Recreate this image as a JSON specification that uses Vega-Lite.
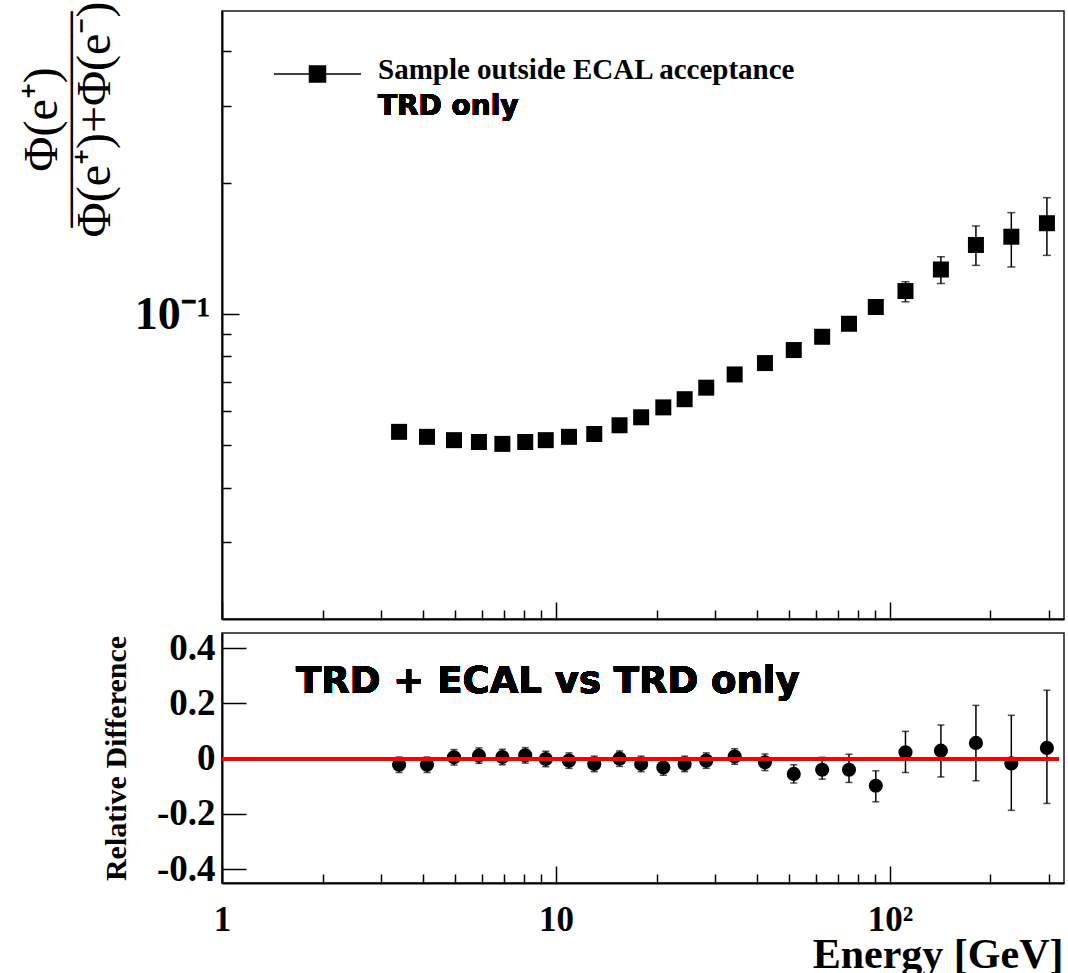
{
  "$schema": "https://vega.github.io/schema/vega-lite/v6.json",
  "background": "white",
  "padding": {"left": 17, "top": 0, "right": 0, "bottom": 0},
  "spacing": 7,
  "datasets": {
    "ratio": [
      {"E": 3.39, "r": 0.0537, "lo": 0.0529, "hi": 0.0545},
      {"E": 4.11, "r": 0.0523, "lo": 0.0515, "hi": 0.0531},
      {"E": 4.95, "r": 0.0514, "lo": 0.0506, "hi": 0.0522},
      {"E": 5.88, "r": 0.0509, "lo": 0.0501, "hi": 0.0517},
      {"E": 6.91, "r": 0.0504, "lo": 0.0496, "hi": 0.0512},
      {"E": 8.09, "r": 0.0509, "lo": 0.0501, "hi": 0.0517},
      {"E": 9.32, "r": 0.0514, "lo": 0.0506, "hi": 0.0522},
      {"E": 10.94, "r": 0.0523, "lo": 0.0515, "hi": 0.0531},
      {"E": 13.02, "r": 0.0531, "lo": 0.0522, "hi": 0.054},
      {"E": 15.5, "r": 0.0556, "lo": 0.0547, "hi": 0.0565},
      {"E": 17.99, "r": 0.058, "lo": 0.057, "hi": 0.059},
      {"E": 20.96, "r": 0.0611, "lo": 0.06, "hi": 0.0622},
      {"E": 24.28, "r": 0.0638, "lo": 0.0626, "hi": 0.065},
      {"E": 28.18, "r": 0.0678, "lo": 0.0665, "hi": 0.0691},
      {"E": 34.28, "r": 0.0727, "lo": 0.0713, "hi": 0.0741},
      {"E": 42.24, "r": 0.0772, "lo": 0.0756, "hi": 0.0788},
      {"E": 51.52, "r": 0.0827, "lo": 0.0809, "hi": 0.0845},
      {"E": 62.66, "r": 0.0887, "lo": 0.0866, "hi": 0.0908},
      {"E": 75.4, "r": 0.095, "lo": 0.0926, "hi": 0.0974},
      {"E": 90.7, "r": 0.1038, "lo": 0.101, "hi": 0.1066},
      {"E": 111.3, "r": 0.1129, "lo": 0.1067, "hi": 0.1186},
      {"E": 142.1, "r": 0.1265, "lo": 0.1175, "hi": 0.1353},
      {"E": 180.9, "r": 0.144, "lo": 0.1293, "hi": 0.1592},
      {"E": 230.9, "r": 0.1504, "lo": 0.1282, "hi": 0.1708},
      {"E": 295.1, "r": 0.1615, "lo": 0.1363, "hi": 0.1848}
    ],
    "diff": [
      {"E": 3.39, "d": -0.022, "lo": -0.05, "hi": 0.006},
      {"E": 4.11, "d": -0.022, "lo": -0.05, "hi": 0.006},
      {"E": 4.95, "d": 0.005, "lo": -0.023, "hi": 0.033},
      {"E": 5.88, "d": 0.011, "lo": -0.017, "hi": 0.039},
      {"E": 6.91, "d": 0.006, "lo": -0.022, "hi": 0.034},
      {"E": 8.09, "d": 0.012, "lo": -0.016, "hi": 0.04},
      {"E": 9.32, "d": -0.001, "lo": -0.029, "hi": 0.027},
      {"E": 10.94, "d": -0.007, "lo": -0.035, "hi": 0.021},
      {"E": 13.02, "d": -0.019, "lo": -0.047, "hi": 0.009},
      {"E": 15.5, "d": 0.0, "lo": -0.028, "hi": 0.028},
      {"E": 17.99, "d": -0.019, "lo": -0.047, "hi": 0.009},
      {"E": 20.96, "d": -0.032, "lo": -0.06, "hi": -0.004},
      {"E": 24.28, "d": -0.019, "lo": -0.047, "hi": 0.009},
      {"E": 28.18, "d": -0.007, "lo": -0.035, "hi": 0.021},
      {"E": 34.28, "d": 0.008, "lo": -0.02, "hi": 0.036},
      {"E": 42.24, "d": -0.013, "lo": -0.043, "hi": 0.017},
      {"E": 51.52, "d": -0.055, "lo": -0.088, "hi": -0.022},
      {"E": 62.66, "d": -0.04, "lo": -0.074, "hi": 0.005},
      {"E": 75.4, "d": -0.04, "lo": -0.086, "hi": 0.016},
      {"E": 90.7, "d": -0.098, "lo": -0.156, "hi": -0.044},
      {"E": 111.3, "d": 0.023, "lo": -0.05, "hi": 0.099},
      {"E": 142.1, "d": 0.029, "lo": -0.066, "hi": 0.122},
      {"E": 180.9, "d": 0.057, "lo": -0.08, "hi": 0.193},
      {"E": 230.9, "d": -0.017, "lo": -0.187, "hi": 0.157},
      {"E": 295.1, "d": 0.039, "lo": -0.162, "hi": 0.248}
    ]
  },
  "vconcat": [
    {
      "width": 842,
      "height": 608,
      "data": {"name": "ratio"},
      "layer": [
        {
          "mark": {"type": "errorbar", "color": "black", "thickness": 1.5, "ticks": {"size": 8}},
          "encoding": {
            "x": {"field": "E", "type": "quantitative", "title": null},
            "y": {"field": "lo", "type": "quantitative", "title": ["Φ(e⁺)", "–––––––––", "Φ(e⁺)+Φ(e⁻)"]},
            "y2": {"field": "hi"}
          }
        },
        {
          "mark": {"type": "point", "shape": "square", "filled": true, "size": 256, "opacity": 1},
          "encoding": {
            "x": {
              "field": "E", "type": "quantitative",
              "scale": {"type": "log", "domain": [1, 332], "nice": false},
              "axis": {
                "values": [1,2,3,4,5,6,7,8,9,10,20,30,40,50,60,70,80,90,100,200,300],
                "labels": false,
                "title": null,
                "tickSize": {"condition": {"test": "datum.value == 1 || datum.value == 10 || datum.value == 100", "value": -17}, "value": -9}
              }
            },
            "y": {
              "field": "r", "type": "quantitative",
              "scale": {"type": "log", "domain": [0.02, 0.495], "nice": false},
              "title": ["Φ(e⁺)", "–––––––––", "Φ(e⁺)+Φ(e⁻)"],
              "axis": {
                "values": [0.03,0.04,0.05,0.06,0.07,0.08,0.09,0.1,0.2,0.3,0.4],
                "labelExpr": "datum.value == 0.1 ? '10⁻¹' : ''",
                "labelFontSize": 46,
                "labelPadding": 29,
                "labelBaseline": "middle",
                "tickSize": {"condition": {"test": "datum.value == 0.1", "value": -17}, "value": -9},
                "titleFont": "Liberation Serif",
                "titleFontWeight": "normal",
                "titleFontSize": 48,
                "titleLineHeight": 26.5,
                "titleAngle": -90,
                "titleAlign": "center",
                "titleBaseline": "alphabetic",
                "titleX": -166,
                "titleY": 108
              }
            },
            "color": {
              "datum": "Sample outside ECAL acceptance",
              "scale": {"range": ["black"]},
              "legend": {
                "orient": "none",
                "legendX": 51,
                "legendY": 23,
                "title": null,
                "symbolType": "M-1,-0.103H1M-0.184,-0.287H0.184V0.081H-0.184Z",
                "symbolSize": 7569,
                "symbolStrokeWidth": 1.5,
                "symbolStrokeColor": "black",
                "symbolFillColor": "black",
                "symbolOpacity": 1,
                "labelFont": "Liberation Serif",
                "labelFontWeight": "bold",
                "labelFontSize": 29,
                "labelColor": "black",
                "labelBaseline": "alphabetic",
                "labelOffset": 16,
                "labelLimit": 0
              }
            }
          }
        },
        {
          "mark": {"type": "text", "text": "TRD only", "font": "DejaVu Sans", "fontWeight": "bold", "fontSize": 28, "align": "left", "baseline": "alphabetic", "color": "black"},
          "encoding": {
            "x": {"datum": 2.93, "type": "quantitative"},
            "y": {"datum": 0.286, "type": "quantitative"}
          }
        }
      ]
    },
    {
      "width": 842,
      "height": 250,
      "data": {"name": "diff"},
      "layer": [
        {
          "mark": {"type": "errorbar", "color": "black", "thickness": 1.5, "ticks": {"size": 7}},
          "encoding": {
            "x": {"field": "E", "type": "quantitative", "title": "Energy [GeV]"},
            "y": {"field": "lo", "type": "quantitative", "title": "Relative Difference"},
            "y2": {"field": "hi"}
          }
        },
        {
          "mark": {"type": "point", "shape": "circle", "filled": true, "size": 200, "opacity": 1, "color": "black"},
          "encoding": {
            "x": {
              "field": "E", "type": "quantitative",
              "scale": {"type": "log", "domain": [1, 332], "nice": false},
              "title": "Energy [GeV]",
              "axis": {
                "values": [1,2,3,4,5,6,7,8,9,10,20,30,40,50,60,70,80,90,100,200,300],
                "labelExpr": "datum.value == 1 ? '1' : datum.value == 10 ? '10' : datum.value == 100 ? '10²' : ''",
                "labelFontSize": 35,
                "labelPadding": 36,
                "labelBaseline": "top",
                "tickSize": {"condition": {"test": "datum.value == 1 || datum.value == 10 || datum.value == 100", "value": -17}, "value": -9},
                "titleFontSize": 42,
                "titleAlign": "right",
                "titleBaseline": "alphabetic",
                "titleX": 841,
                "titleY": 84
              }
            },
            "y": {
              "field": "d", "type": "quantitative",
              "scale": {"domain": [-0.45, 0.455], "nice": false, "zero": false},
              "title": "Relative Difference",
              "axis": {
                "values": [-0.4,-0.35,-0.3,-0.25,-0.2,-0.15,-0.1,-0.05,0,0.05,0.1,0.15,0.2,0.25,0.3,0.35,0.4],
                "labelExpr": "abs(datum.value) < 0.001 ? '0' : (abs(abs(datum.value) - 0.2) < 0.001 || abs(abs(datum.value) - 0.4) < 0.001) ? ((datum.value < 0 ? '-' : '') + format(abs(datum.value), '.1f')) : ''",
                "labelFontSize": 37,
                "labelPadding": 31,
                "labelBaseline": "middle",
                "tickSize": {"condition": {"test": "abs(abs(datum.value) - 0.2) < 0.001 || abs(abs(datum.value) - 0.4) < 0.001 || abs(datum.value) < 0.001", "value": -24}, "value": -12},
                "titleFontSize": 30,
                "titleAngle": -90,
                "titleAlign": "center",
                "titleBaseline": "alphabetic",
                "titleX": -97,
                "titleY": 125
              }
            }
          }
        },
        {
          "mark": {"type": "text", "text": "TRD + ECAL vs TRD only", "font": "DejaVu Sans", "fontWeight": "bold", "fontSize": 37, "align": "left", "baseline": "alphabetic", "color": "black"},
          "encoding": {
            "x": {"datum": 1.666, "type": "quantitative"},
            "y": {"datum": 0.239, "type": "quantitative"}
          }
        },
        {
          "mark": {"type": "rule", "color": "#ff0000", "strokeWidth": 3},
          "encoding": {
            "x": {"datum": 1, "type": "quantitative"},
            "x2": {"datum": 320},
            "y": {"datum": 0, "type": "quantitative"}
          }
        }
      ]
    }
  ],
  "config": {
    "font": "Liberation Serif",
    "view": {"stroke": "#1a1a1a", "strokeWidth": 1.5},
    "axis": {
      "grid": false,
      "domainColor": "black",
      "domainWidth": 2,
      "tickColor": "black",
      "tickWidth": 1.5,
      "labelFont": "Liberation Serif",
      "labelFontWeight": "bold",
      "labelColor": "black",
      "labelFlush": false,
      "labelOverlap": false,
      "titleFont": "Liberation Serif",
      "titleFontWeight": "bold",
      "titleColor": "black"
    }
  }
}
